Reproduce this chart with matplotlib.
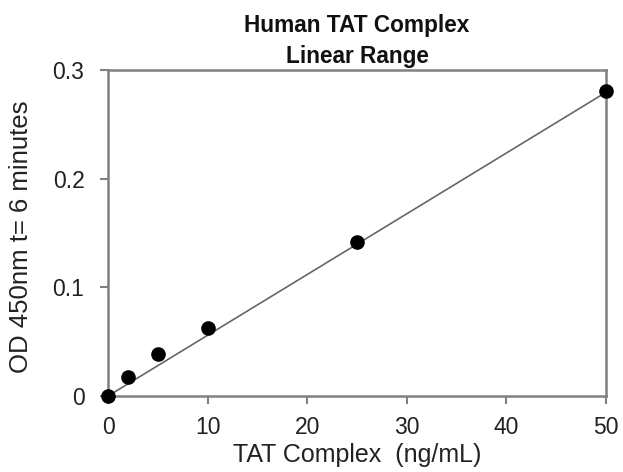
import matplotlib
matplotlib.use("Agg")
import matplotlib.pyplot as plt

conc = [0, 2, 5, 10, 25, 50]
od = [0.0, 0.0175, 0.039, 0.063, 0.1415, 0.2805]
fit_x = [0, 50]
fit_y = [0.0, 0.2795]
xticks = [0, 10, 20, 30, 40, 50]
yticks = [0, 0.1, 0.2, 0.3]
yticklabels = ["0", "0.1", "0.2", "0.3"]

plt.rcParams['font.family'] = ['Liberation Sans', 'DejaVu Sans']

fig = plt.figure(figsize=(6.23, 4.72), dpi=100)
ax = fig.add_axes([0.1734, 0.161, 0.7993, 0.6907])

ax.plot(fit_x, fit_y, color='#666666', lw=1.2, zorder=2)
ax.plot(conc, od, 'o', color='black', ms=9.5, zorder=3, clip_on=False)

ax.set_xlim(0, 50)
ax.set_ylim(0, 0.3)
ax.set_xticks(xticks)
ax.set_yticks(yticks)
ax.set_yticklabels(yticklabels)
for s in ax.spines.values():
    s.set_color('#808080')
    s.set_linewidth(1.8)
ax.tick_params(direction='out', length=5.5, width=1.5, color='#808080',
               labelsize=16.5, labelcolor='#222222')
ax.tick_params(axis='y', pad=11.5)
ax.tick_params(axis='x', pad=9)

ax.set_xlabel("TAT Complex  (ng/mL)", fontsize=18, color='#222222')
ax.set_ylabel("OD 450nm t= 6 minutes", fontsize=18.5, color='#222222')
ax.xaxis.set_label_coords(0.5, -0.143)
ax.yaxis.set_label_coords(-0.15, 0.49)
ax.set_title("Human TAT Complex\nLinear Range", fontsize=16.3, fontweight='bold',
             color='#111111', pad=5, linespacing=1.42)

fig.savefig("out.png", dpi=100)
